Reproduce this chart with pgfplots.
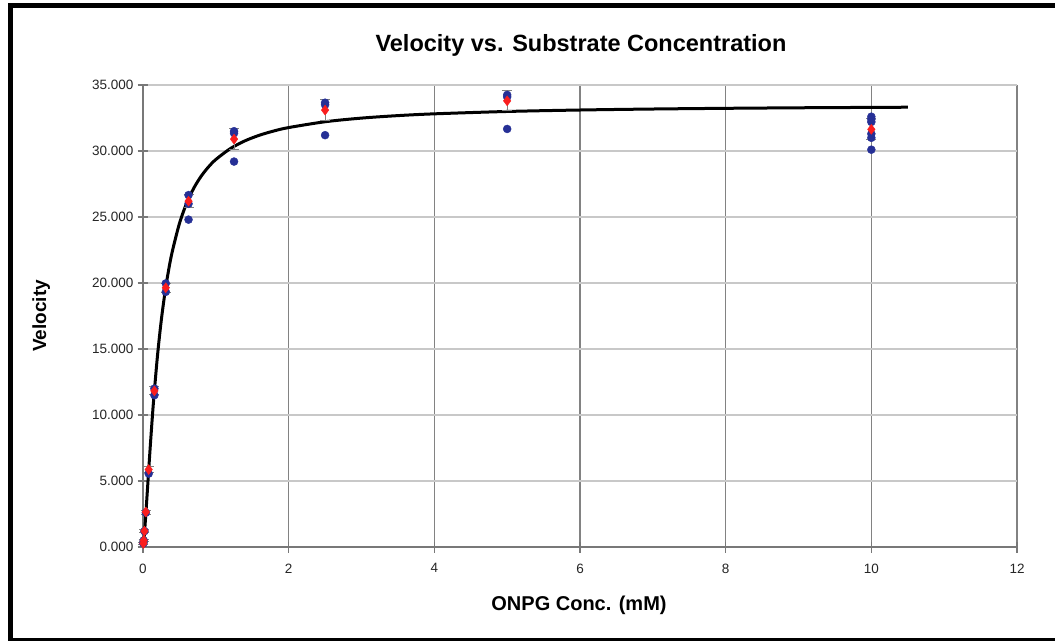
\documentclass[border=0pt]{standalone}
\usepackage{pgfplots}
\pgfplotsset{compat=1.18}
\usepackage{fontspec}
\setmainfont{Liberation Sans}
\definecolor{dotblue}{RGB}{38,48,150}
\definecolor{dotred}{RGB}{250,30,30}
\definecolor{gridlight}{RGB}{200,200,200}
\definecolor{griddark}{RGB}{130,130,130}
\definecolor{axisgray}{RGB}{120,120,120}
\begin{document}
\begin{tikzpicture}
\useasboundingbox (0pt,0pt) rectangle (1055pt,-640pt);
\fill[white] (0pt,0pt) rectangle (1055pt,-640pt);
\begin{axis}[
  at={(143pt,-547pt)}, anchor=south west,
  scale only axis, width=874pt, height=462pt,
  xmin=0, xmax=12, ymin=0, ymax=35,
  xtick={0,2,...,12}, ytick={0,5,...,35},
  axis x line*=bottom, axis y line*=left,
  axis line style={-, draw=axisgray, line width=2pt},
  grid=major,
  x grid style={draw=griddark, line width=1.3pt},
  y grid style={draw=gridlight, line width=2pt},
  tick align=center, major tick length=11pt,
  tick style={draw=axisgray, line width=1.3pt},
  /pgf/number format/assume math mode=true,
  yticklabel style={/pgf/number format/fixed, /pgf/number format/fixed zerofill,
     /pgf/number format/precision=3, /pgf/number format/1000 sep={},
     font=\fontsize{13.5pt}{14pt}\selectfont, text=black!85, inner sep=0pt, anchor=east, xshift=-4pt},
  xticklabel style={font=\fontsize{13.5pt}{14pt}\selectfont, text=black!85, inner sep=0pt, anchor=north, yshift=-11pt},
  scaled y ticks=false,
  clip=false,
]
% fitted curve
\addplot[black, line width=3pt, smooth, mark=none] coordinates {
(0,0) (0.01,0.407) (0.02,1.040) (0.04,2.579) (0.06,4.268) (0.08,5.975)
(0.1,7.638) (0.125,9.604) (0.15,11.414) (0.2,14.560) (0.25,17.126)
(0.3,19.214) (0.35,20.925) (0.4,22.335) (0.5,24.501) (0.6,26.057)
(0.7,27.215) (0.8,28.103) (0.9,28.799) (1.0,29.356) (1.2,30.186)
(1.4,30.770) (1.6,31.198) (1.8,31.523) (2.0,31.776) (2.5,32.216)
(3,32.493) (3.5,32.681) (4,32.816) (5,32.995) (6,33.106) (7,33.181)
(8,33.234) (9,33.274) (10,33.304) (10.5,33.317)
};
% individual measurements
\addplot[only marks, mark=*, mark size=4pt, color=dotblue] coordinates {
(10,32.6) (10,32.4) (10,32.2) (10,31.3) (10,31.0) (10,30.1)
(5,34.25) (5,34.1) (5,31.67)
(2.5,33.66) (2.5,33.5) (2.5,31.2)
(1.25,31.5) (1.25,31.35) (1.25,29.2)
(0.625,26.66) (0.625,26.0) (0.625,24.8)
(0.3125,19.97) (0.3125,19.33)
(0.15625,12.0) (0.15625,11.5)
(0.078125,5.56) (0.0390625,2.6) (0.01953,1.2) (0.00977,0.5) (0.00488,0.27)
};
% means with error bars
\addplot[only marks, mark=diamond*, mark size=5pt, color=dotred,
  error bars/.cd, y dir=both, y explicit,
  error bar style={draw=gray, line width=1pt},
  error mark options={rotate=90, mark size=5pt, draw=gray, line width=1pt}]
  coordinates {
(10,31.64) +- (0,0.8)
(5,33.8) +- (0,0.75)
(2.5,33.1) +- (0,0.8)
(1.25,30.9) +- (0,0.8)
(0.625,26.2) +- (0,0.5)
(0.3125,19.64) +- (0,0.35)
(0.15625,11.83) +- (0,0.3)
(0.078125,5.87) +- (0,0.2)
(0.0390625,2.65) +- (0,0.15)
(0.01953,1.21) +- (0,0.1)
(0.00977,0.5) +- (0,0.1)
(0.00488,0.27) +- (0,0.1)
};
\end{axis}
% title and labels
\node[anchor=base, font=\bfseries\fontsize{23.5pt}{26pt}\selectfont] at (581pt,-51.5pt) {Velocity vs. Substrate Concentration};
\node[anchor=base, font=\bfseries\fontsize{20pt}{22pt}\selectfont] at (579pt,-610pt) {ONPG Conc. (mM)};
\node[anchor=base, rotate=90, font=\bfseries\fontsize{19pt}{21pt}\selectfont] at (46pt,-316pt) {Velocity};
% outer frame
\draw[black, line width=5pt] (10.5pt,-640pt) -- (10.5pt,-5pt) -- (1055pt,-5pt);
\draw[black, line width=3pt] (8pt,-639pt) -- (1055pt,-639pt);
\end{tikzpicture}
\end{document}
